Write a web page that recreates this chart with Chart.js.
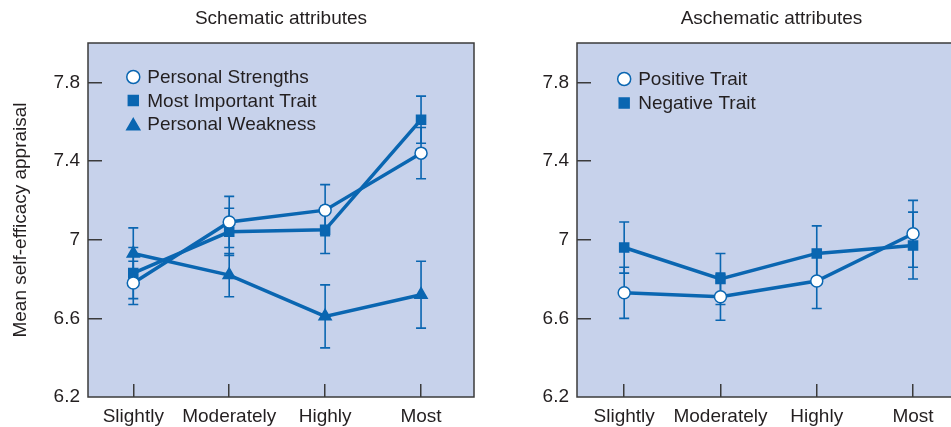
<!DOCTYPE html>
<html>
<head>
<meta charset="utf-8">
<script src="https://cdn.jsdelivr.net/npm/chart.js@4/dist/chart.umd.min.js"></script>
<style>
  html, body { margin: 0; padding: 0; background: #fff; overflow: hidden; width: 951px; height: 427px; }
  .panel { position: absolute; top: 0; }
  #left { left: 0; }
  #right { left: 480px; }
</style>
</head>
<body>
<div class="panel" id="left"><canvas id="schematic" width="480" height="427"></canvas></div>
<div class="panel" id="right"><canvas id="aschematic" width="500" height="427"></canvas></div>
<script>
// categories and axis ticks
var categories = ['Slightly', 'Moderately', 'Highly', 'Most'];
var yTicks = [6.2, 6.6, 7, 7.4, 7.8];
var yTickLabels = ['6.2', '6.6', '7', '7.4', '7.8'];

// schematic attributes: means and error bar half-lengths
var strengths = [6.78, 7.09, 7.15, 7.44];
var strengthsErr = [0.11, 0.13, 0.13, 0.13];
var mostImportant = [6.83, 7.04, 7.05, 7.61];
var mostImportantErr = [0.13, 0.12, 0.12, 0.12];
var weakness = [6.93, 6.82, 6.61, 6.72];
var weaknessErr = [0.13, 0.11, 0.16, 0.17];

// aschematic attributes
var positive = [6.73, 6.71, 6.79, 7.03];
var positiveErr = [0.13, 0.12, 0.14, 0.17];
var negative = [6.96, 6.80, 6.93, 6.97];
var negativeErr = [0.13, 0.13, 0.14, 0.17];

var BLUE = '#0a66b1';
var INK = '#231f20';
var FRAME = '#3b3b3b';
var FONT = "'Liberation Sans', Arial, Helvetica, sans-serif";

function points(values) {
  return values.map(function (v, i) { return { x: i, y: v }; });
}

// shaded plot area with a frame round it
var panelBox = {
  id: 'panelBox',
  beforeDraw: function (chart) {
    var a = chart.chartArea, ctx = chart.ctx;
    ctx.save();
    ctx.fillStyle = '#c7d2eb';
    ctx.fillRect(a.left, a.top, a.right - a.left, a.bottom - a.top);
    ctx.restore();
  },
  beforeDatasetsDraw: function (chart) {
    var a = chart.chartArea, ctx = chart.ctx;
    ctx.save();
    ctx.strokeStyle = FRAME;
    ctx.lineWidth = 1.5;
    ctx.strokeRect(a.left, a.top, a.right - a.left, a.bottom - a.top);
    ctx.restore();
  }
};

// vertical error bars with small caps, under the markers
var errorBars = {
  id: 'errorBars',
  beforeDatasetsDraw: function (chart) {
    var ctx = chart.ctx, xs = chart.scales.x, ys = chart.scales.y;
    ctx.save();
    ctx.strokeStyle = BLUE;
    ctx.lineWidth = 1.6;
    chart.data.datasets.forEach(function (ds) {
      ds.data.forEach(function (p, i) {
        var e = ds.errors[i];
        var px = xs.getPixelForValue(p.x);
        var top = ys.getPixelForValue(p.y + e);
        var bot = ys.getPixelForValue(p.y - e);
        ctx.beginPath();
        ctx.moveTo(px, top); ctx.lineTo(px, bot);
        ctx.moveTo(px - 5, top); ctx.lineTo(px + 5, top);
        ctx.moveTo(px - 5, bot); ctx.lineTo(px + 5, bot);
        ctx.stroke();
      });
    });
    ctx.restore();
  }
};

// legend drawn inside the plot, lined up with the first category
var insideLegend = {
  id: 'insideLegend',
  afterDatasetsDraw: function (chart, args, opts) {
    var ctx = chart.ctx, a = chart.chartArea;
    var mx = chart.scales.x.getPixelForValue(0);
    ctx.save();
    ctx.font = '19px ' + FONT;
    ctx.textBaseline = 'middle';
    ctx.textAlign = 'left';
    chart.data.datasets.forEach(function (ds, i) {
      var cy = a.top + opts.top + i * opts.rowHeight;
      ctx.fillStyle = ds.pointBackgroundColor;
      ctx.strokeStyle = BLUE;
      ctx.lineWidth = 1.5;
      var my = ds.pointStyle === 'triangle' ? cy + 2 : cy;
      Chart.helpers.drawPoint(ctx, { pointStyle: ds.pointStyle, radius: ds.legendRadius, borderWidth: 1.5, rotation: 0 }, mx, my);
      ctx.fillStyle = INK;
      ctx.fillText(ds.label, mx + 14, cy + 1);
    });
    ctx.restore();
  }
};

function series(label, values, errors, style) {
  var ds = {
    label: label,
    data: points(values),
    errors: errors,
    borderColor: BLUE,
    borderWidth: 3.5,
    tension: 0,
    fill: false,
    pointBorderColor: BLUE,
    pointBorderWidth: 1.5,
    pointStyle: style
  };
  if (style === 'circle') {
    ds.pointBackgroundColor = '#ffffff';
    ds.pointRadius = 6;
    ds.legendRadius = 6.5;
  } else if (style === 'rect') {
    ds.pointBackgroundColor = BLUE;
    ds.pointRadius = 6.4;
    ds.legendRadius = 7;
  } else {
    ds.pointBackgroundColor = BLUE;
    ds.pointRadius = 7;
    ds.legendRadius = 7.5;
  }
  return ds;
}

function makeOptions(cfg) {
  var tickFont = { family: FONT, size: 19 };
  return {
    responsive: false,
    maintainAspectRatio: false,
    animation: false,
    events: [],
    layout: { autoPadding: false, padding: { top: 0, right: cfg.rightPad, bottom: 0, left: 0 } },
    plugins: {
      legend: { display: false },
      tooltip: { enabled: false },
      title: {
        display: true,
        text: cfg.title,
        fullSize: false,
        color: INK,
        font: { family: FONT, size: 19, weight: 'normal' },
        padding: { top: 7, bottom: 13.2 }
      },
      insideLegend: { top: cfg.legendTop, rowHeight: cfg.legendRow }
    },
    scales: {
      x: {
        type: 'linear',
        min: cfg.xMin,
        max: cfg.xMax,
        afterBuildTicks: function (s) {
          s.ticks = categories.map(function (c, i) { return { value: i }; });
        },
        ticks: {
          callback: function (v) { return categories[v]; },
          color: INK,
          font: tickFont,
          padding: 21,
          maxRotation: 0,
          autoSkip: false
        },
        grid: { drawOnChartArea: false, tickLength: -13, color: FRAME, lineWidth: 1.5 },
        border: { display: false },
        afterFit: function (s) {
          s.height = 30;
          s.paddingLeft = 0;
          s.paddingRight = 0;
        }
      },
      y: {
        min: 6.2,
        max: 8.0,
        afterBuildTicks: function (s) {
          s.ticks = yTicks.map(function (v) { return { value: v }; });
        },
        ticks: {
          callback: function (v, i) { return yTickLabels[i]; },
          color: INK,
          font: tickFont,
          padding: 22
        },
        grid: {
          drawOnChartArea: false,
          tickLength: -14,
          lineWidth: 1.5,
          color: function (c) { return c.tick && c.tick.value === 6.2 ? 'rgba(0,0,0,0)' : FRAME; }
        },
        border: { display: false },
        title: {
          display: !!cfg.yTitle,
          text: cfg.yTitle || '',
          color: INK,
          font: { family: FONT, size: 19 },
          padding: { top: 9, bottom: 9 }
        },
        afterFit: function (s) {
          s.width = cfg.yWidth;
          s.paddingTop = 0;
          s.paddingBottom = 0;
        }
      }
    }
  };
}

new Chart(document.getElementById('schematic').getContext('2d'), {
  type: 'line',
  data: {
    datasets: [
      series('Personal Strengths', strengths, strengthsErr, 'circle'),
      series('Most Important Trait', mostImportant, mostImportantErr, 'rect'),
      series('Personal Weakness', weakness, weaknessErr, 'triangle')
    ]
  },
  options: makeOptions({
    title: 'Schematic attributes', yTitle: 'Mean self-efficacy appraisal',
    yWidth: 88, rightPad: 6, xMin: -0.472, xMax: 3.552, legendTop: 34, legendRow: 23.5
  }),
  plugins: [panelBox, errorBars, insideLegend]
});

new Chart(document.getElementById('aschematic').getContext('2d'), {
  type: 'line',
  data: {
    datasets: [
      series('Positive Trait', positive, positiveErr, 'circle'),
      series('Negative Trait', negative, negativeErr, 'rect')
    ]
  },
  options: makeOptions({
    title: 'Aschematic attributes', yTitle: '',
    yWidth: 97, rightPad: 14, xMin: -0.49, xMax: 3.55, legendTop: 36, legendRow: 24
  }),
  plugins: [panelBox, errorBars, insideLegend]
});
</script>
</body>
</html>
